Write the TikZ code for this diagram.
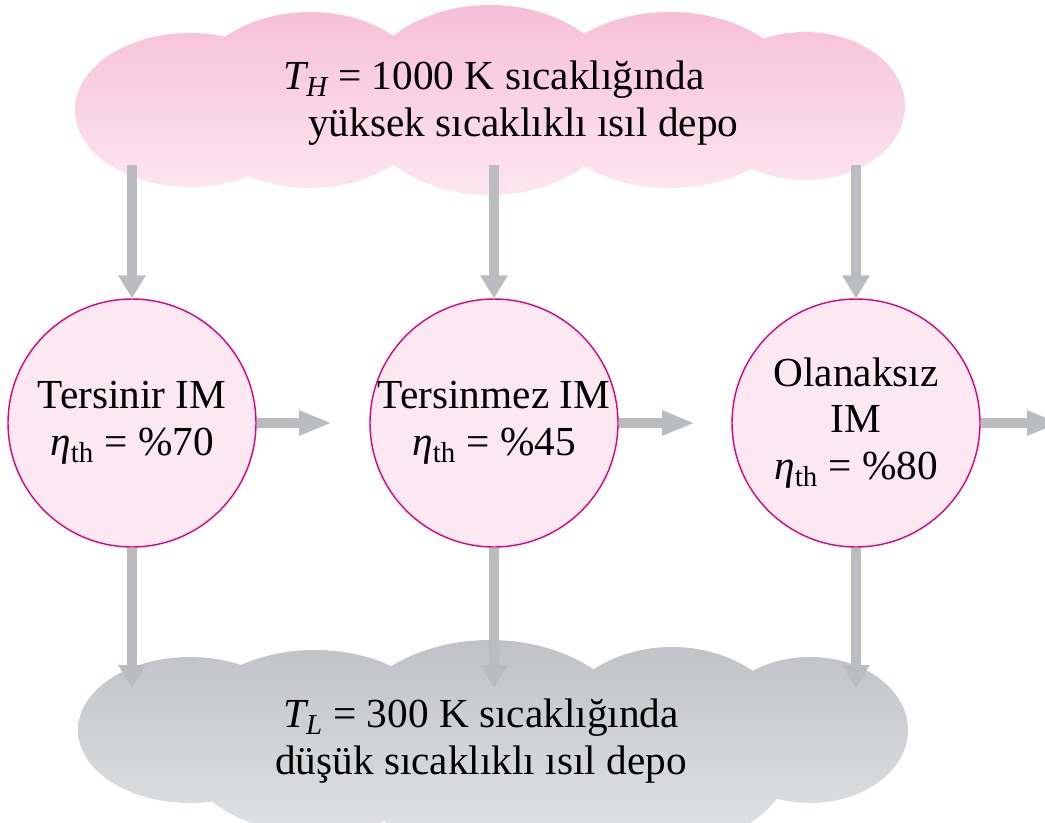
\documentclass[tikz,border=0pt]{standalone}
\usepackage{fontspec}
\setmainfont{Liberation Serif}
\usetikzlibrary{arrows.meta}

\definecolor{hottop}{HTML}{F6BFD7}
\definecolor{hotbottom}{HTML}{FDE6EF}
\definecolor{coldtop}{HTML}{C1C2C5}
\definecolor{coldbottom}{HTML}{E3E4E6}
\definecolor{enginefill}{HTML}{FCE8F1}
\definecolor{rim}{HTML}{E4007D}
\definecolor{flowgray}{HTML}{BBBCBF}

\newcommand{\etath}{{\itshape η}\textsubscript{th}}

\begin{document}
\begin{tikzpicture}[x=0.02cm, y=-0.02cm,
    engine/.style={circle, draw=rim, fill=enginefill, line width=0.8pt,
        minimum size=4.96cm, inner sep=0pt, align=center,
        font=\fontsize{23.5}{26.6}\selectfont},
    deptext/.style={inner sep=0pt, font=\fontsize{23.5}{26.6}\selectfont},
    heat/.style={draw=flowgray, line width=0.2cm,
        -{Triangle[width=0.52cm, length=0.46cm]}},
    work/.style={draw=flowgray, line width=0.2cm,
        -{Triangle[width=0.46cm, length=0.66cm]}}]
    \clip (0,0) rectangle (1045,822);

    % high temperature reservoir
    \shade[top color=hottop, bottom color=hotbottom]
        (190,110) ellipse [x radius=115, y radius=77]
        (310,100) ellipse [x radius=122, y radius=88]
        (490,100) ellipse [x radius=131, y radius=95]
        (670,100) ellipse [x radius=130, y radius=88]
        (805,106) ellipse [x radius=100, y radius=74];
    \node[deptext, anchor=west, align=left] (hot) at (283,103)
        {{\itshape T}\textsubscript{\itshape H} = 1000 K sıcaklığında\\
         \hspace*{0.5cm}yüksek sıcaklıklı ısıl depo};

    % low temperature reservoir
    \shade[top color=coldtop, bottom color=coldbottom]
        (190,730) ellipse [x radius=112, y radius=73]
        (315,742) ellipse [x radius=135, y radius=92]
        (490,746) ellipse [x radius=150, y radius=106]
        (672,746) ellipse [x radius=124, y radius=99]
        (810,730) ellipse [x radius=98, y radius=73];
    \node[deptext, align=center] (cold) at (481,741)
        {{\itshape T}\textsubscript{\itshape L} = 300 K sıcaklığında\\
         düşük sıcaklıklı ısıl depo};

    % engines
    \node[engine] (rev) at (132,423) {Tersinir IM\\ \etath{} = \%70};
    \node[engine] (irr) at (494,423) {Tersinmez IM\\ \etath{} = \%45};
    \node[engine] (imp) at (856,423) {Olanaksız\\ IM\\ \etath{} = \%80};

    \coordinate (h1) at (132,165);
    \coordinate (h2) at (494,165);
    \coordinate (h3) at (856,165);
    \coordinate (c1) at (132,688);
    \coordinate (c2) at (494,688);
    \coordinate (c3) at (856,688);
    \coordinate (w1) at (332,423);
    \coordinate (w2) at (695,423);
    \coordinate (w3) at (1060,423);

    \draw[heat] (h1) -- (rev.north);
    \draw[heat] (h2) -- (irr.north);
    \draw[heat] (h3) -- (imp.north);
    \draw[heat] (rev.south) -- (c1);
    \draw[heat] (irr.south) -- (c2);
    \draw[heat] (imp.south) -- (c3);
    \draw[work] (rev.east) -- (w1);
    \draw[work] (irr.east) -- (w2);
    \draw[work] (imp.east) -- (w3);
\end{tikzpicture}
\end{document}
